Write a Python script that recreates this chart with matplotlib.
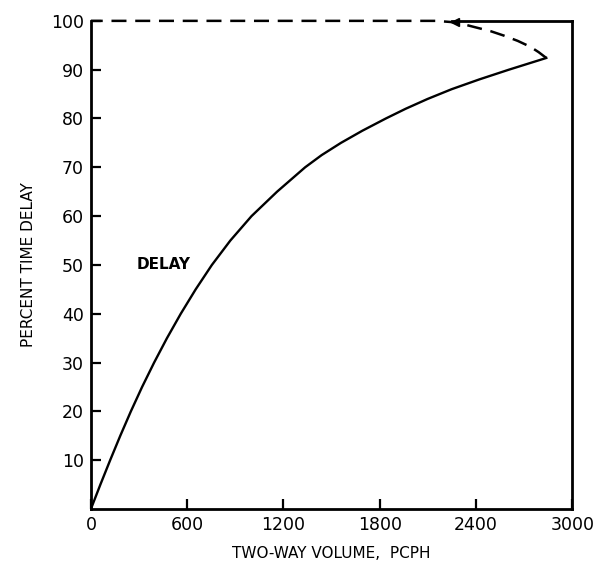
import numpy as np
import matplotlib.pyplot as plt

# values
volume_solid = [0, 59, 120, 183, 249, 319, 394, 474, 560, 653, 754, 869,
                1001, 1160, 1335, 1438, 1558, 1692, 1838, 1962, 2098, 2248,
                2420, 2605, 2838]
delay_solid = [0, 5, 10, 15, 20, 25, 30, 35, 40, 45, 50, 55,
               60, 65, 70, 72.5, 75, 77.5, 80, 82, 84, 86,
               88, 90, 92.4]

volume_dash = [2838, 2790, 2738, 2660, 2572, 2490, 2406, 2335, 2270, 2150, 1200, 0]
delay_dash = [92.4, 93.6, 94.7, 95.9, 97.0, 97.9, 98.6, 99.2, 99.7, 100, 100, 100]

x_ticks = [0, 600, 1200, 1800, 2400, 3000]
y_ticks = [10, 20, 30, 40, 50, 60, 70, 80, 90, 100]
top_frame_start = 2250

plt.rcParams['font.family'] = ['DejaVu Sans']

fig = plt.figure(figsize=(5.98, 5.64), dpi=100)
ax = fig.add_axes([0.152, 0.0975, 0.805, 0.8655])

ax.plot(volume_solid, delay_solid, color='black', linewidth=1.7,
        solid_joinstyle='round')
ax.plot(volume_dash, delay_dash, color='black', linewidth=1.8,
        linestyle=(0, (6, 3.5)), clip_on=False)
# small arrowhead where the dashed branch meets the frame
ax.plot([volume_dash[8]], [99.75], marker='<', markersize=6, color='black',
        clip_on=False)

ax.set_xlim(0, 3000)
ax.set_ylim(0, 100)
ax.set_xticks(x_ticks)
ax.set_yticks(y_ticks)
ax.tick_params(direction='in', length=7, width=1.6, labelsize=12.5, pad=5)

for s in ['left', 'bottom', 'right', 'top']:
    ax.spines[s].set_linewidth(2)
ax.spines['top'].set_bounds(top_frame_start, 3000)

ax.set_xlabel('TWO-WAY VOLUME,  PCPH', fontsize=11, labelpad=9)
ax.set_ylabel('PERCENT TIME DELAY', fontsize=11, labelpad=11)

ax.text(285, 50, 'DELAY', fontsize=11, fontweight='bold', va='center')

plt.savefig('out.png', dpi=100)
plt.close()
